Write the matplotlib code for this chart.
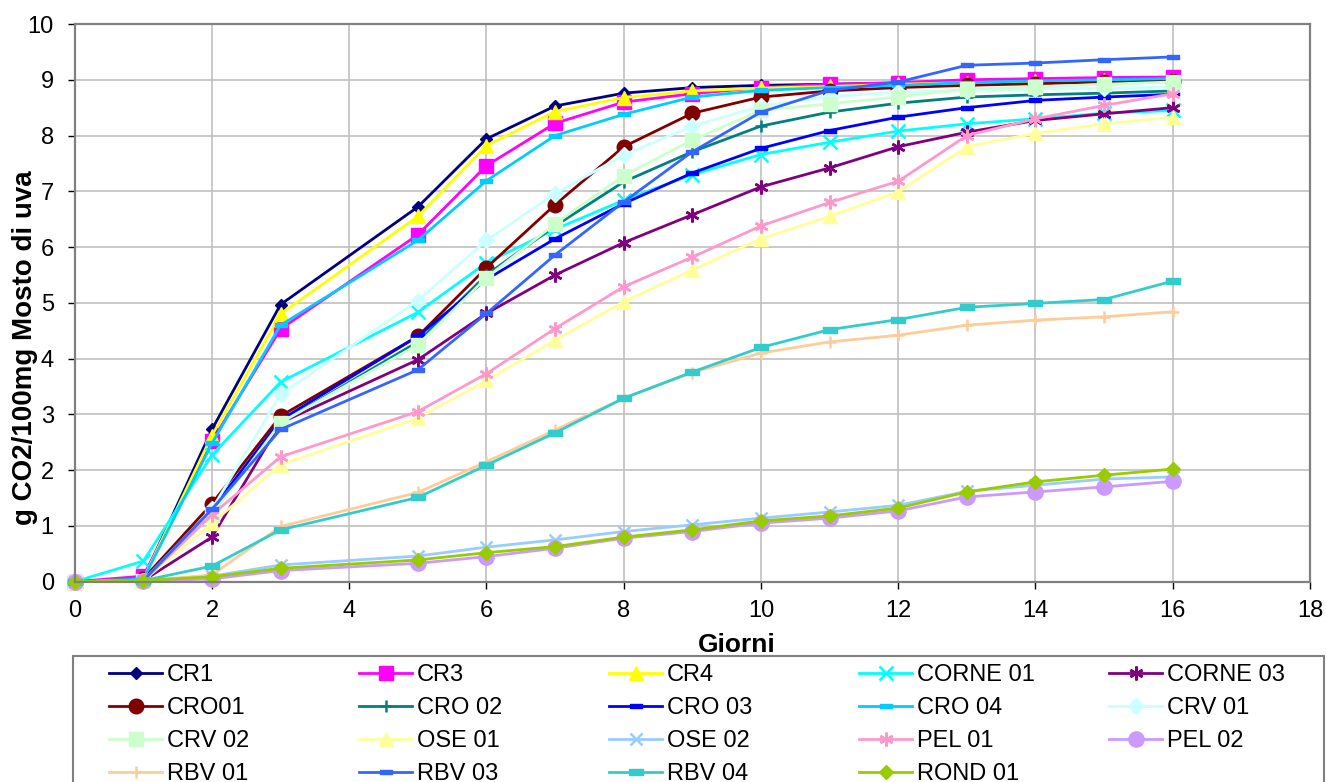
import numpy as np
import matplotlib
matplotlib.use("Agg")
import matplotlib.pyplot as plt
from matplotlib.path import Path
from matplotlib.patches import Rectangle

plt.rcParams['font.family'] = ['Liberation Sans', 'DejaVu Sans']

# giorni di misura (manca il giorno 4)
giorni = [0, 1, 2, 3, 5, 6, 7, 8, 9, 10, 11, 12, 13, 14, 15, 16]

CR1 = [0, 0.05, 2.73, 4.97, 6.72, 7.94, 8.53, 8.76, 8.86, 8.90, 8.92, 8.94, 8.97, 8.99, 9.00, 9.02]
CR3 = [0, 0.10, 2.52, 4.53, 6.22, 7.46, 8.22, 8.60, 8.75, 8.86, 8.92, 8.95, 9.00, 9.02, 9.04, 9.05]
CR4 = [0, 0.05, 2.62, 4.80, 6.55, 7.82, 8.43, 8.68, 8.80, 8.85, 8.88, 8.92, 8.95, 8.97, 8.99, 9.00]
CORNE01 = [0, 0.37, 2.27, 3.58, 4.83, 5.72, 6.32, 6.84, 7.30, 7.66, 7.88, 8.08, 8.21, 8.30, 8.40, 8.45]
CORNE03 = [0, 0.02, 0.80, 2.85, 3.98, 4.81, 5.50, 6.08, 6.58, 7.08, 7.42, 7.80, 8.06, 8.27, 8.39, 8.50]
CRO01 = [0, 0.05, 1.40, 2.97, 4.40, 5.63, 6.76, 7.80, 8.40, 8.69, 8.80, 8.86, 8.90, 8.93, 8.96, 8.98]
CRO02 = [0, 0.02, 1.30, 2.85, 4.30, 5.50, 6.38, 7.17, 7.71, 8.17, 8.42, 8.58, 8.69, 8.73, 8.76, 8.80]
CRO03 = [0, 0.02, 1.30, 2.90, 4.40, 5.42, 6.15, 6.78, 7.33, 7.77, 8.09, 8.33, 8.50, 8.63, 8.69, 8.74]
CRO04 = [0, 0.05, 2.48, 4.60, 6.12, 7.19, 8.00, 8.38, 8.69, 8.81, 8.86, 8.90, 8.95, 8.98, 9.00, 9.02]
CRV01 = [0, 0.02, 1.30, 3.36, 5.04, 6.12, 6.96, 7.65, 8.17, 8.53, 8.70, 8.78, 8.80, 8.83, 8.85, 8.87]
CRV02 = [0, 0.02, 1.20, 2.85, 4.25, 5.45, 6.42, 7.28, 7.92, 8.45, 8.57, 8.69, 8.84, 8.87, 8.92, 8.96]
OSE01 = [0, 0.02, 1.05, 2.10, 2.93, 3.61, 4.33, 5.02, 5.59, 6.15, 6.55, 6.99, 7.80, 8.04, 8.21, 8.33]
OSE02 = [0, 0.02, 0.10, 0.30, 0.46, 0.62, 0.75, 0.90, 1.02, 1.14, 1.25, 1.37, 1.62, 1.73, 1.84, 1.88]
PEL01 = [0, 0.02, 1.20, 2.24, 3.05, 3.73, 4.54, 5.29, 5.82, 6.38, 6.80, 7.18, 8.00, 8.30, 8.54, 8.75]
PEL02 = [0, 0.01, 0.05, 0.20, 0.33, 0.45, 0.60, 0.78, 0.90, 1.05, 1.14, 1.27, 1.52, 1.61, 1.70, 1.80]
RBV01 = [0, 0.02, 0.12, 0.99, 1.60, 2.15, 2.72, 3.29, 3.75, 4.10, 4.30, 4.42, 4.60, 4.69, 4.75, 4.84]
RBV03 = [0, 0.02, 1.30, 2.73, 3.80, 4.81, 5.86, 6.81, 7.71, 8.42, 8.81, 8.96, 9.26, 9.30, 9.36, 9.41]
RBV04 = [0, 0.02, 0.28, 0.93, 1.51, 2.09, 2.67, 3.29, 3.76, 4.20, 4.52, 4.70, 4.92, 4.99, 5.06, 5.39]
ROND01 = [0, 0.02, 0.09, 0.24, 0.39, 0.52, 0.63, 0.80, 0.93, 1.09, 1.18, 1.32, 1.61, 1.79, 1.91, 2.02]

nomi = ['CR1', 'CR3', 'CR4', 'CORNE 01', 'CORNE 03', 'CRO01', 'CRO 02', 'CRO 03', 'CRO 04',
        'CRV 01', 'CRV 02', 'OSE 01', 'OSE 02', 'PEL 01', 'PEL 02', 'RBV 01', 'RBV 03',
        'RBV 04', 'ROND 01']
serie = [CR1, CR3, CR4, CORNE01, CORNE03, CRO01, CRO02, CRO03, CRO04, CRV01, CRV02,
         OSE01, OSE02, PEL01, PEL02, RBV01, RBV03, RBV04, ROND01]

# marker "dash" stile Excel
dash = Path([(-1, -0.38), (1, -0.38), (1, 0.38), (-1, 0.38), (-1, -0.38)],
            [Path.MOVETO, Path.LINETO, Path.LINETO, Path.LINETO, Path.CLOSEPOLY])
star = (6, 2, 0)

# colore, marker, dimensione
stili = [
    ('#000080', 'D', 6.5),
    ('#FF00FF', 's', 10),
    ('#FFFF00', '^', 10),
    ('#00FFFF', 'x', 10),
    ('#800080', star, 10),
    ('#800000', 'o', 10.5),
    ('#008080', '+', 9),
    ('#0000FF', dash, 8),
    ('#00CCFF', dash, 9),
    ('#CCFFFF', 'D', 8),
    ('#CCFFCC', 's', 10.5),
    ('#FFFF99', '^', 10.5),
    ('#99CCFF', 'x', 9),
    ('#FF99CC', star, 10),
    ('#CC99FF', 'o', 11),
    ('#FFCC99', '+', 9),
    ('#3366FF', dash, 8),
    ('#33CCCC', dash, 10),
    ('#99CC00', 'D', 7.5),
]

fig = plt.figure(figsize=(13.26, 7.82), dpi=100)
W, H = 1326, 782
ax = fig.add_axes([74.7 / W, 1 - 581.7 / H, (1310 - 74.7) / W, (581.7 - 24) / H])

linee = []
for y, nome, (col, mk, ms) in zip(serie, nomi, stili):
    mew = 1.8 if mk in ('x', '+') or mk == star else 1.0
    l, = ax.plot(giorni, y, color=col, lw=2.0, marker=mk, ms=ms, mfc=col, mec=col,
                 mew=mew, label=nome, clip_on=False)
    linee.append(l)

ax.set_xlim(0, 18)
ax.set_ylim(0, 10)
ax.set_xticks(np.arange(0, 19, 2))
ax.set_yticks(np.arange(0, 11, 1))
ax.grid(True, color='#c0c0c0', lw=1.2)
ax.set_axisbelow(True)
for s in ax.spines.values():
    s.set_color('#808080')
    s.set_linewidth(1.6)
ax.tick_params(axis='both', direction='out', length=5, width=1, color='black',
               labelsize=17)
ax.tick_params(axis='x', pad=8)
ax.tick_params(axis='y', pad=10)

ax.set_xlabel('Giorni', fontsize=19, fontweight='bold')
ax.xaxis.set_label_coords(0.536, -0.092)
ax.set_ylabel('g CO2/100mg Mosto di uva', fontsize=20, fontweight='bold')
ax.yaxis.set_label_coords(-0.03, 0.419)

# cornice della legenda (tagliata in basso come nell'originale)
fig.patches.append(Rectangle((73 / W, -0.1), (1324 - 73) / W, 0.1 + 1 - 656 / H,
                             transform=fig.transFigure, fill=False,
                             ec='#808080', lw=1.5))

# legenda in 5 colonne, ordine per righe
for c in range(5):
    idx = [r * 5 + c for r in range(4) if r * 5 + c < len(linee)]
    fig.legend([linee[i] for i in idx], [nomi[i] for i in idx],
               loc='upper left', bbox_to_anchor=((109 + 250 * c) / W, 1 - 664 / H),
               frameon=False, borderpad=0, borderaxespad=0, fontsize=17,
               handlelength=2.25, handletextpad=0.2, labelspacing=0.47)

fig.savefig('out.png', dpi=100)
